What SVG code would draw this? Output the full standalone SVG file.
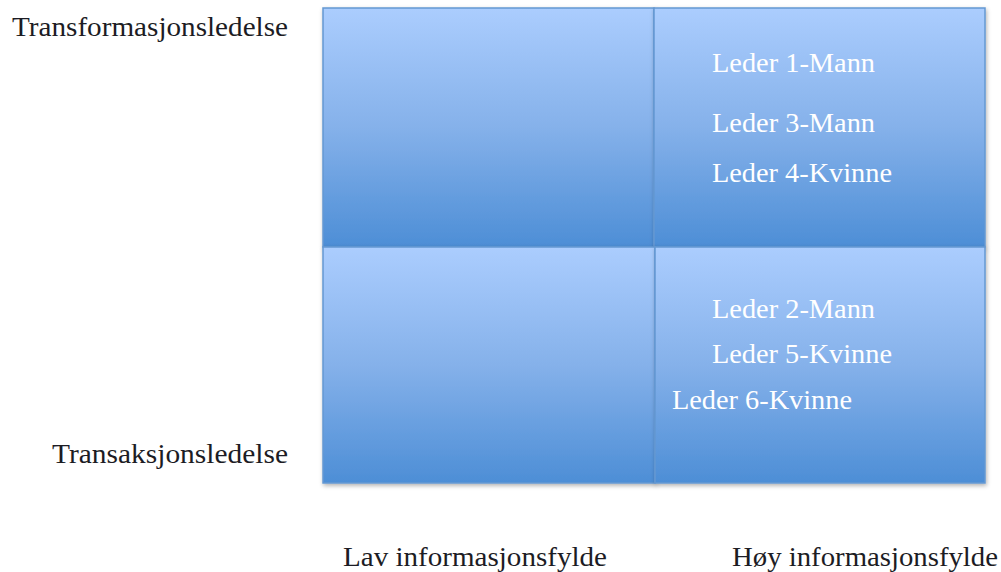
<svg xmlns="http://www.w3.org/2000/svg" width="1001" height="572" viewBox="0 0 1001 572">
<style>
.cell{fill:url(#g);stroke:#6498d2;stroke-width:1.5;filter:url(#sh)}
.lbl{font-family:"Liberation Serif","DejaVu Serif",serif;font-size:27px;fill:#1c1c24}
.in{font-family:"Liberation Serif","DejaVu Serif",serif;font-size:27px;fill:#ffffff}
</style>
<defs>
<linearGradient id="g" x1="0" y1="0" x2="0" y2="1">
<stop offset="0" stop-color="#abcdfe"/>
<stop offset="0.5" stop-color="#85b1ea"/>
<stop offset="1" stop-color="#4d8ed6"/>
</linearGradient>
<filter id="sh" x="-5%" y="-5%" width="110%" height="115%">
<feDropShadow dx="1" dy="2" stdDeviation="2" flood-color="#000" flood-opacity="0.3"/>
</filter>
</defs>
<g id="q-tl"><rect class="cell" x="323" y="8" width="331" height="239"/></g>
<g id="q-tr"><rect class="cell" x="654" y="8" width="331" height="239"/>
<text class="in" x="712" y="72" textLength="163" lengthAdjust="spacingAndGlyphs">Leder 1-Mann</text>
<text class="in" x="712" y="132" textLength="163" lengthAdjust="spacingAndGlyphs">Leder 3-Mann</text>
<text class="in" x="712" y="182" textLength="180" lengthAdjust="spacingAndGlyphs">Leder 4-Kvinne</text>
</g>
<g id="q-bl"><rect class="cell" x="323" y="247" width="332" height="236"/></g>
<g id="q-br"><rect class="cell" x="655" y="247" width="330" height="236"/>
<text class="in" x="712" y="318" textLength="163" lengthAdjust="spacingAndGlyphs">Leder 2-Mann</text>
<text class="in" x="712" y="363" textLength="180" lengthAdjust="spacingAndGlyphs">Leder 5-Kvinne</text>
<text class="in" x="672" y="409" textLength="180" lengthAdjust="spacingAndGlyphs">Leder 6-Kvinne</text>
</g>
<g id="connectors"></g>
<g id="axis-labels">
<text class="lbl" x="12" y="36" textLength="276" lengthAdjust="spacingAndGlyphs">Transformasjonsledelse</text>
<text class="lbl" x="52" y="463" textLength="236" lengthAdjust="spacingAndGlyphs">Transaksjonsledelse</text>
<text class="lbl" x="343" y="566" textLength="264" lengthAdjust="spacingAndGlyphs">Lav informasjonsfylde</text>
<text class="lbl" x="732" y="566" textLength="266" lengthAdjust="spacingAndGlyphs">Høy informasjonsfylde</text>
</g>
</svg>
